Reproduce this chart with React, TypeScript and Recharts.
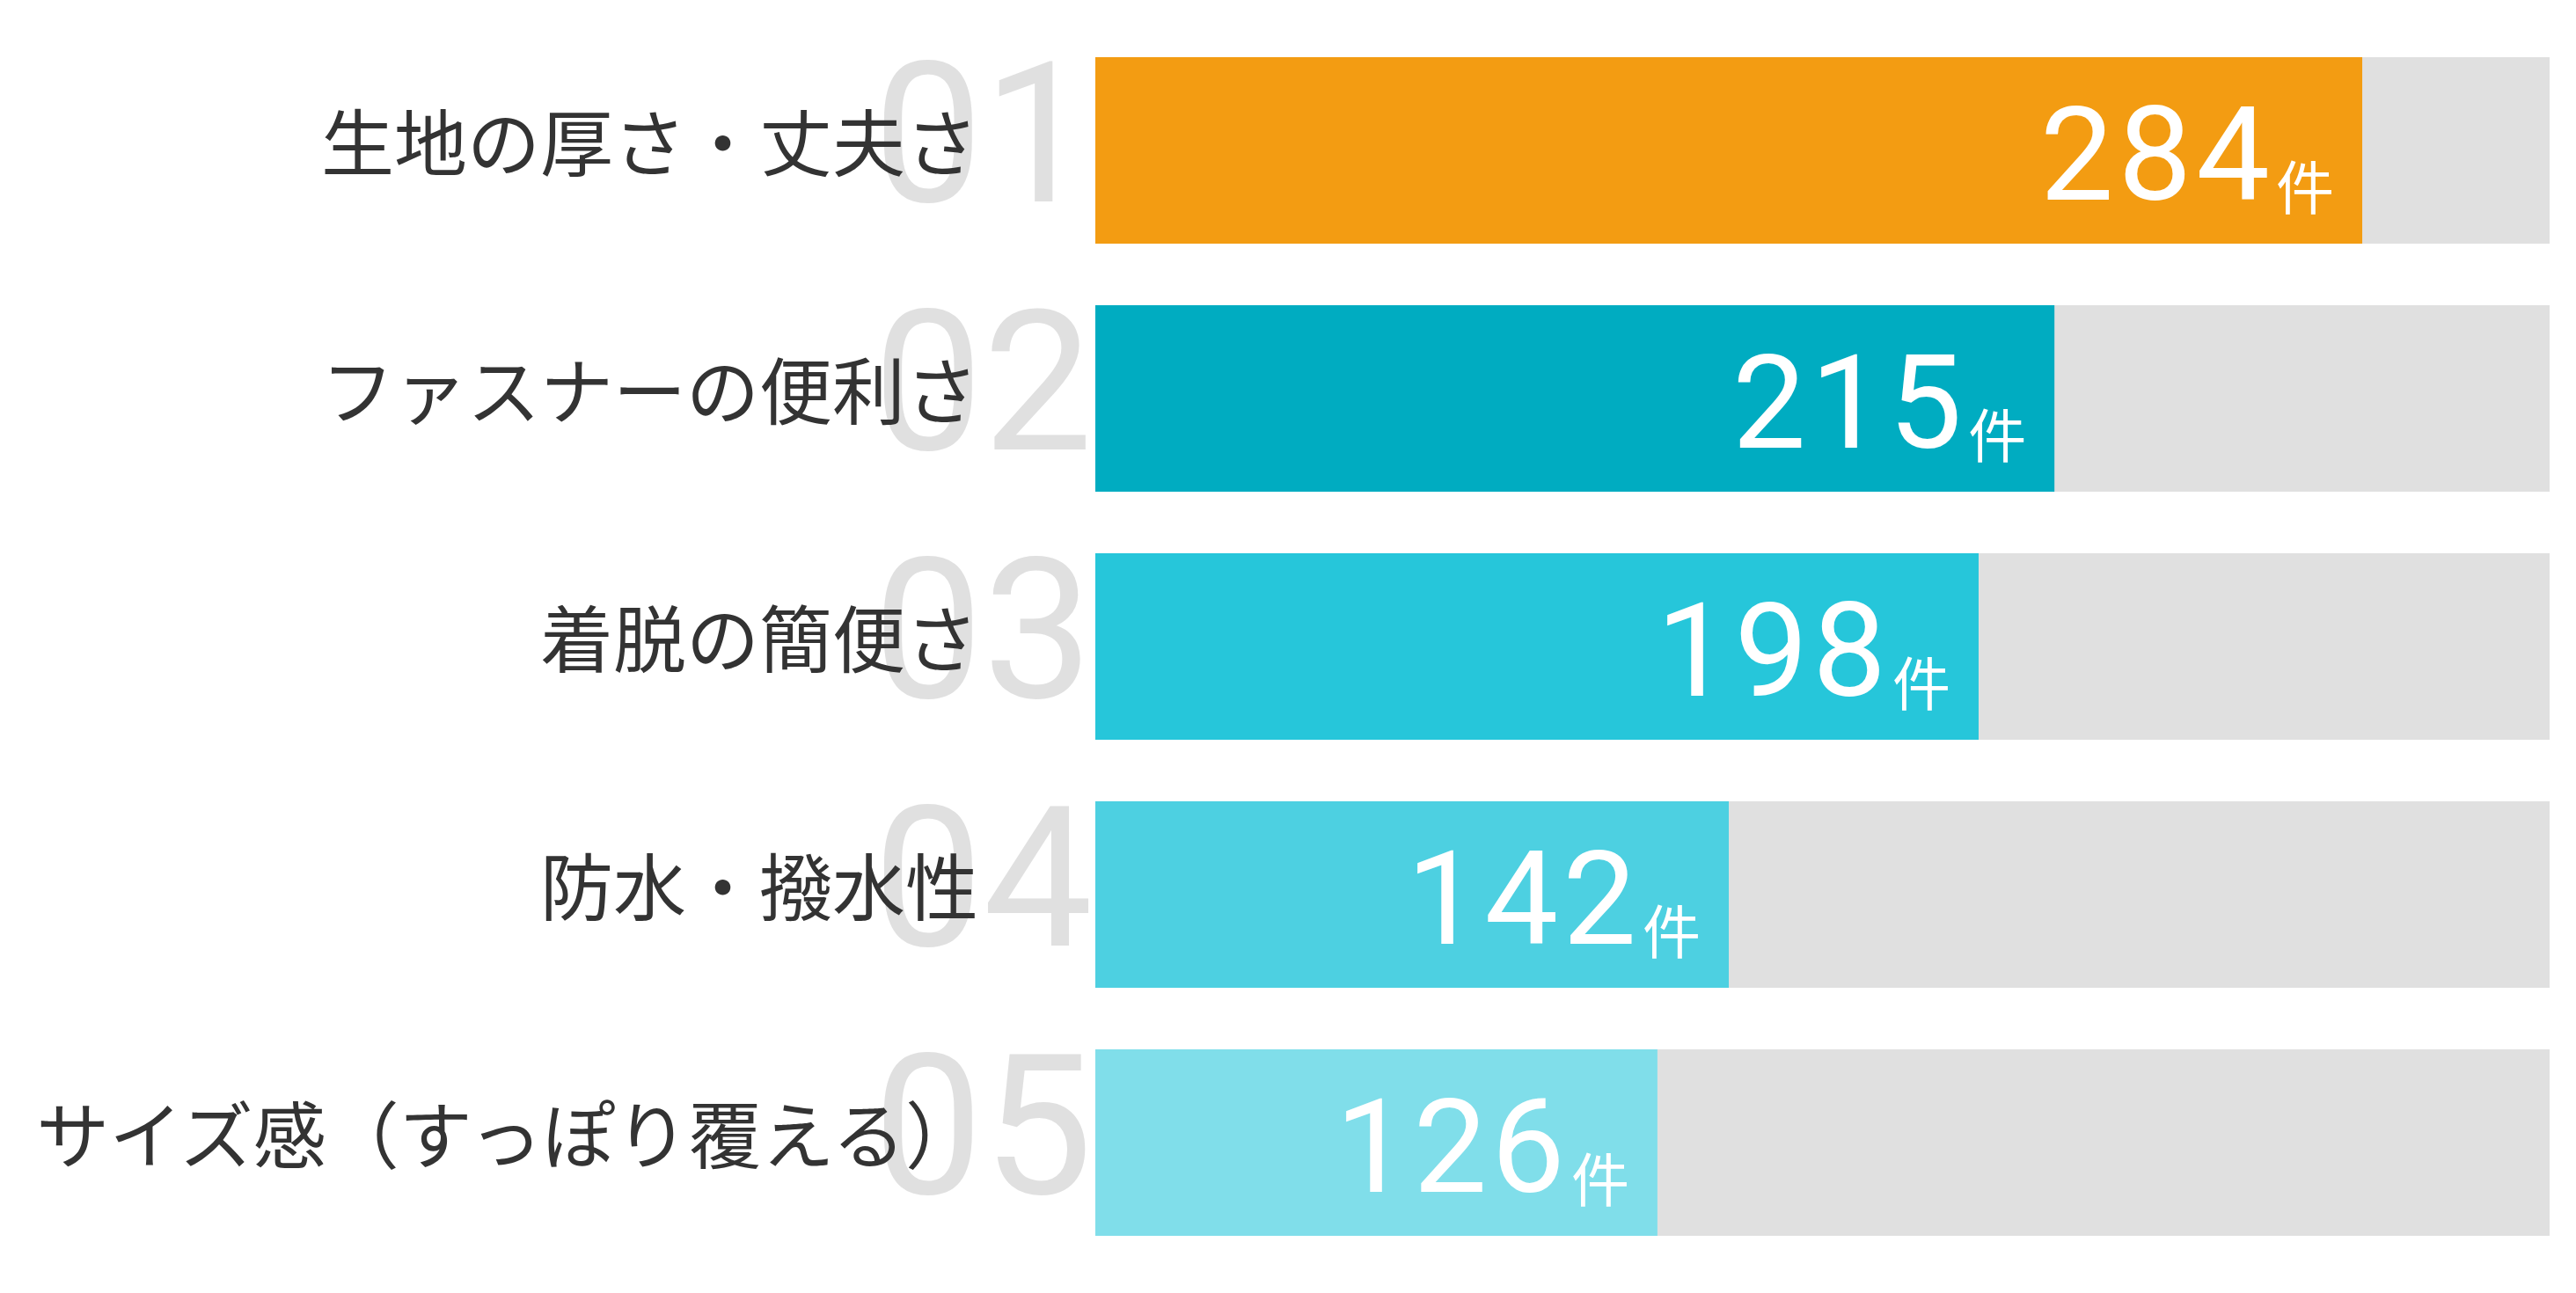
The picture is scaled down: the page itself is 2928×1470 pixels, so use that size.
import { Bar, BarChart, Cell, LabelList, XAxis, YAxis } from "recharts";

const categories = [
  "生地の厚さ・丈夫さ",
  "ファスナーの便利さ",
  "着脱の簡便さ",
  "防水・撥水性",
  "サイズ感（すっぽり覆える）",
];
const counts = [284, 215, 198, 142, 126];
const ranks = ["01", "02", "03", "04", "05"];
const unit = "件";
const scaleMax = 326;

const barColors = ["#f39c12", "#00acc1", "#26c6da", "#4dd0e1", "#80deea"];

const data = categories.map((name, i) => ({ name, count: counts[i] }));

function CategoryTick(props: any) {
  const { x, y, payload } = props;
  const i = props.index ?? payload.index;
  return (
    <g>
      <text
        x={x - 3}
        y={y + 58}
        textAnchor="end"
        fontFamily="Roboto"
        fontWeight={400}
        fontSize={222}
        fill="#e0e0e0"
      >
        {ranks[i]}
      </text>
      <text
        x={x - 133}
        y={y + 23}
        textAnchor="end"
        fontFamily="'Noto Sans CJK JP'"
        fontWeight={400}
        fontSize={83}
        fill="#333333"
      >
        {payload.value}
      </text>
    </g>
  );
}

function CountLabel(props: any) {
  const { x, y, width, height, value } = props;
  return (
    <text
      x={x + width - 32}
      y={y + height / 2 + 56}
      textAnchor="end"
      fill="#ffffff"
      fontFamily="Roboto"
    >
      <tspan fontSize={149} letterSpacing={5}>
        {value}
      </tspan>
      <tspan fontSize={66} dx={2} dy={11} fontFamily="'Noto Sans CJK JP'">
        {unit}
      </tspan>
    </text>
  );
}

export default function App() {
  return (
    <BarChart
      width={2912}
      height={1454}
      data={data}
      layout="vertical"
      margin={{ top: 22, right: 22, bottom: 22, left: 0 }}
    >
      <XAxis type="number" domain={[0, scaleMax]} hide />
      <YAxis
        type="category"
        dataKey="name"
        width={1237}
        axisLine={false}
        tickLine={false}
        tickSize={0}
        tickMargin={0}
        interval={0}
        tick={<CategoryTick />}
      />
      <Bar
        dataKey="count"
        barSize={212}
        background={{ fill: "#e0e0e0" }}
        isAnimationActive={false}
      >
        {data.map((d, i) => (
          <Cell key={d.name} fill={barColors[i]} />
        ))}
        <LabelList dataKey="count" content={<CountLabel />} />
      </Bar>
    </BarChart>
  );
}
